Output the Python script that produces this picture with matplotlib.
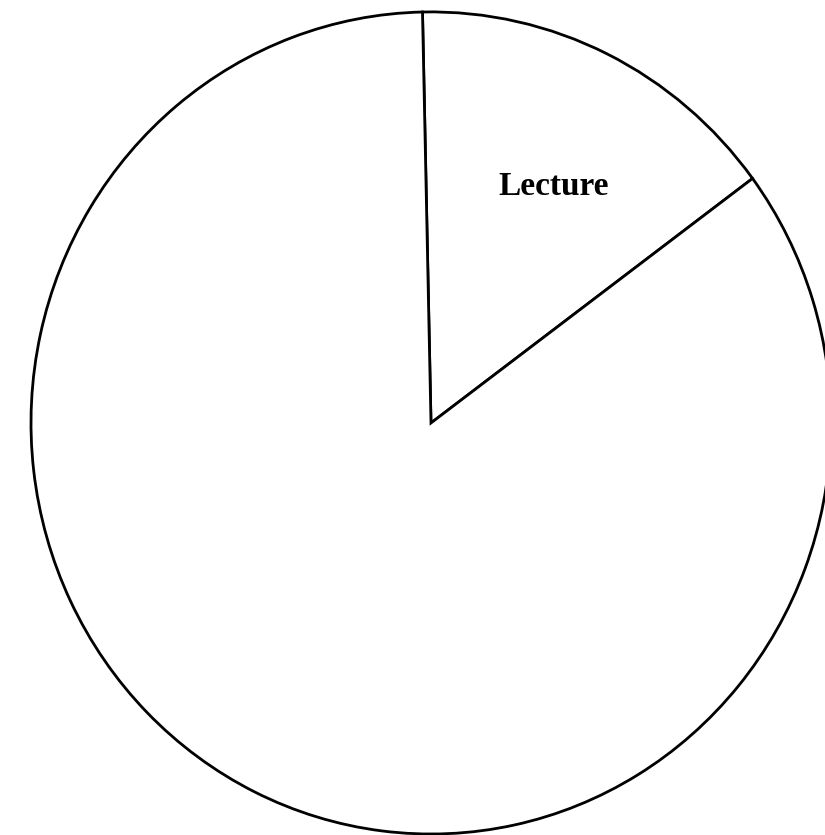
import matplotlib.pyplot as plt

# slice shares (percent)
labels = ["Lecture", ""]
shares = [15.2, 84.8]

fig = plt.figure(figsize=(8.25, 8.35), dpi=100)
ax = fig.add_axes([0, 0, 1, 1])

ax.pie(shares, startangle=36.5, counterclock=True,
       colors=["white", "white"],
       wedgeprops={"edgecolor": "black", "linewidth": 2.0})

# label sits inside the small slice
ax.text(0.3075, 0.555, labels[0], family="Liberation Serif",
        fontweight="bold", fontsize=24, ha="center", va="baseline")

# the scan is slightly taller than wide, so keep aspect free
ax.set_aspect("auto")
ax.set_xlim(-1.0775, 0.985)
ax.set_ylim(-1.0024, 1.029)
ax.axis("off")

fig.savefig("out.png", dpi=100)
